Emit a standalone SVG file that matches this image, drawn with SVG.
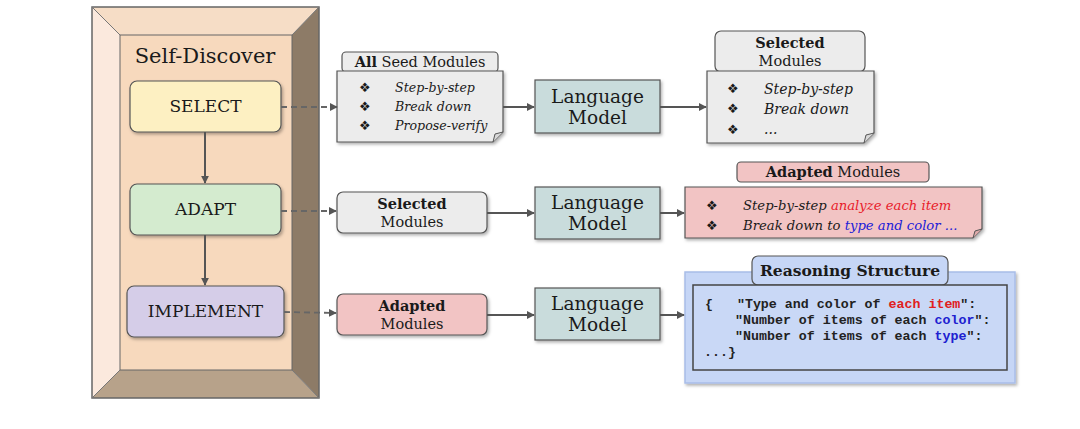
<svg xmlns="http://www.w3.org/2000/svg" width="1080" height="429" viewBox="0 0 1080 429">
<defs>
  <filter id="sh" x="-10%" y="-10%" width="125%" height="130%">
    <feDropShadow dx="1.5" dy="2" stdDeviation="1.5" flood-color="#000" flood-opacity="0.3"/>
  </filter>
  <marker id="ah" viewBox="0 0 10 10" refX="9" refY="5" markerWidth="8" markerHeight="8" markerUnits="userSpaceOnUse" orient="auto">
    <path d="M0,0 L10,5 L0,10 z" fill="#555"/>
  </marker>
  <style>
    .t{font-family:"DejaVu Serif","Liberation Serif",serif;fill:#1a1a1a}
    .c{text-anchor:middle}
    .b{font-weight:bold}
    .i{font-style:italic}
    .bul{font-family:"DejaVu Sans",sans-serif;font-size:13px;fill:#1a1a1a}
    .code{font-family:"Liberation Mono","DejaVu Sans Mono",monospace;font-weight:bold;font-size:13.3px;fill:#222;white-space:pre}
    .step{stroke:#555;stroke-width:1.2;filter:url(#sh)}
    .ln{stroke:#555;stroke-width:2;fill:none;marker-end:url(#ah)}
    .dash{stroke:#666;stroke-width:1.8;fill:none;stroke-dasharray:6 4;marker-end:url(#ah)}
    .lm{fill:#c9dcdc;stroke:#555;stroke-width:1.2;filter:url(#sh)}
    .note{stroke:#555;stroke-width:1.2;filter:url(#sh)}
  </style>
</defs>
<rect width="1080" height="429" fill="#fff"/>

<g id="frame">
  <polygon points="92,7 319,7 292,35 120,35" fill="#f6ddc6"/>
  <polygon points="92,7 120,35 120,370 92,398" fill="#fbe9dd"/>
  <polygon points="319,7 319,398 292,370 292,35" fill="#8d7b67"/>
  <polygon points="92,398 120,370 292,370 319,398" fill="#b7a28a"/>
  <rect x="120" y="35" width="172" height="335" fill="#f7d9bd" stroke="#666" stroke-width="1"/>
  <rect x="92" y="7" width="227" height="391" fill="none" stroke="#666" stroke-width="1.5"/>
  <line x1="92" y1="7" x2="120" y2="35" stroke="#777" stroke-width="1"/>
  <line x1="319" y1="7" x2="292" y2="35" stroke="#777" stroke-width="1"/>
  <line x1="92" y1="398" x2="120" y2="370" stroke="#777" stroke-width="1"/>
  <line x1="319" y1="398" x2="292" y2="370" stroke="#777" stroke-width="1"/>
  <text class="t c" x="205" y="63" font-size="21">Self-Discover</text>
</g>

<g id="select">
  <rect class="step" x="130" y="81" width="151" height="51" rx="7" fill="#fdf0c2"/>
  <text class="t c" x="205.5" y="112" font-size="17">SELECT</text>
</g>
<g id="adapt">
  <rect class="step" x="130" y="184" width="151" height="51" rx="7" fill="#d4ebcf"/>
  <text class="t c" x="205.5" y="215" font-size="17">ADAPT</text>
</g>
<g id="implement">
  <rect class="step" x="127" y="286" width="157" height="51" rx="7" fill="#d5cde8"/>
  <text class="t c" x="205.5" y="317" font-size="17">IMPLEMENT</text>
</g>

<!-- Row 1 -->
<g id="seed-modules">
  <rect x="342" y="52" width="156" height="20" rx="4" fill="#ececec" stroke="#555" stroke-width="1.2"/>
  <text class="t c" x="420" y="67" font-size="14.5"><tspan class="b">All</tspan> Seed Modules</text>
  <path class="note" d="M337,71 H503 V132 L493,142 H337 Z" fill="#ececec"/>
  <path d="M493,142 L495,134 L503,132" fill="#d8d8d8" stroke="#555" stroke-width="1"/>
  <text class="bul" x="359" y="92">❖</text>
  <text class="bul" x="359" y="111">❖</text>
  <text class="bul" x="359" y="130">❖</text>
  <g class="t i" font-size="12.6">
    <text x="395" y="92">Step-by-step</text>
    <text x="395" y="111">Break down</text>
    <text x="395" y="130">Propose-verify</text>
  </g>
</g>
<g id="lm1">
  <rect class="lm" x="535" y="80" width="125" height="53"/>
  <text class="t c" x="597.5" y="103" font-size="18.5">Language</text>
  <text class="t c" x="597.5" y="124" font-size="18.5">Model</text>
</g>
<g id="selected-out">
  <rect x="715" y="31" width="150" height="41" rx="6" fill="#ececec" stroke="#555" stroke-width="1.2"/>
  <text class="t c b" x="790" y="48" font-size="14.5">Selected</text>
  <text class="t c" x="790" y="66" font-size="14.5">Modules</text>
  <path class="note" d="M707,71 H874 V133 L864,143 H707 Z" fill="#ececec"/>
  <path d="M864,143 L866,135 L874,133" fill="#d8d8d8" stroke="#555" stroke-width="1"/>
  <text class="bul" x="727" y="93">❖</text>
  <text class="bul" x="727" y="113">❖</text>
  <text class="bul" x="727" y="134">❖</text>
  <g class="t i" font-size="14">
    <text x="764" y="94">Step-by-step</text>
    <text x="764" y="114">Break down</text>
    <text x="764" y="134">...</text>
  </g>
</g>

<!-- Row 2 -->
<g id="selected-in">
  <rect class="note" x="337" y="192" width="150" height="41" rx="6" fill="#ececec"/>
  <text class="t c b" x="412" y="209" font-size="14.5">Selected</text>
  <text class="t c" x="412" y="227" font-size="14.5">Modules</text>
</g>
<g id="lm2">
  <rect class="lm" x="535" y="187" width="125" height="52"/>
  <text class="t c" x="597.5" y="209" font-size="18.5">Language</text>
  <text class="t c" x="597.5" y="230" font-size="18.5">Model</text>
</g>
<g id="adapted-out">
  <rect x="737" y="162" width="192" height="20" rx="4" fill="#f2c4c4" stroke="#555" stroke-width="1.2"/>
  <text class="t c" x="833" y="177" font-size="14.5"><tspan class="b">Adapted</tspan> Modules</text>
  <path class="note" d="M685,187 H982 V229 L973,238 H685 Z" fill="#f2c4c4"/>
  <path d="M973,238 L975,231 L982,229" fill="#ddaaaa" stroke="#555" stroke-width="1"/>
  <text class="bul" x="706" y="210">❖</text>
  <text class="bul" x="706" y="230">❖</text>
  <g class="t i" font-size="13.2">
    <text x="743" y="210">Step-by-step <tspan fill="#e8202a">analyze each item</tspan></text>
    <text x="743" y="230">Break down to <tspan fill="#2020d8">type and color ...</tspan></text>
  </g>
</g>

<!-- Row 3 -->
<g id="adapted-in">
  <rect class="note" x="337" y="294" width="150" height="41" rx="6" fill="#f2c4c4"/>
  <text class="t c b" x="412" y="311" font-size="14.5">Adapted</text>
  <text class="t c" x="412" y="329" font-size="14.5">Modules</text>
</g>
<g id="lm3">
  <rect class="lm" x="535" y="288" width="125" height="52"/>
  <text class="t c" x="597.5" y="310" font-size="18.5">Language</text>
  <text class="t c" x="597.5" y="331" font-size="18.5">Model</text>
</g>
<g id="reasoning-structure">
  <rect x="685" y="272" width="330" height="111" fill="#c6d6f6" stroke="#a8bde8" stroke-width="1.5" filter="url(#sh)"/>
  <rect x="752" y="256" width="196" height="29" rx="6" fill="#c6d6f6" stroke="#555" stroke-width="1.2"/>
  <text class="t c b" x="850" y="276" font-size="15.5">Reasoning Structure</text>
  <rect x="693" y="285" width="314" height="85" fill="#c9d8f6" stroke="#444" stroke-width="1.5"/>
  <text class="code" x="705" y="308">{   "Type and color of <tspan fill="#e02020">each item</tspan>":</text>
  <text class="code" x="735" y="324">"Number of items of each <tspan fill="#2020d0">color</tspan>":</text>
  <text class="code" x="735" y="340">"Number of items of each <tspan fill="#2020d0">type</tspan>":</text>
  <text class="code" x="704" y="356">...}</text>
</g>

<g id="connectors">
  <line class="ln" x1="205" y1="132" x2="205" y2="183"/>
  <line class="ln" x1="205" y1="235" x2="205" y2="285"/>
  <line class="dash" x1="281" y1="107" x2="337" y2="107"/>
  <line class="dash" x1="281" y1="211" x2="336" y2="211"/>
  <line class="dash" x1="284" y1="312" x2="336" y2="313"/>
  <line class="ln" x1="503" y1="107" x2="534" y2="107"/>
  <line class="ln" x1="660" y1="107" x2="706" y2="107"/>
  <line class="ln" x1="487" y1="213" x2="534" y2="213"/>
  <line class="ln" x1="660" y1="213" x2="684" y2="213"/>
  <line class="ln" x1="487" y1="315" x2="534" y2="315"/>
  <line class="ln" x1="660" y1="315" x2="684" y2="315"/>
</g>
</svg>
